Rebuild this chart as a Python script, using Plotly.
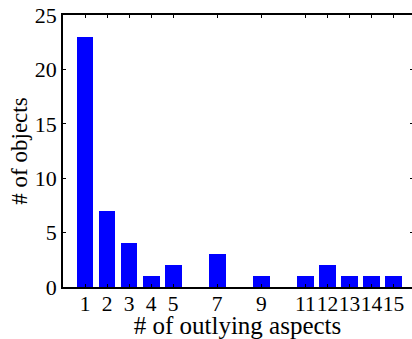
import plotly.graph_objects as go

categories = list(range(1, 16))
counts = [23, 7, 4, 1, 2, 0, 3, 0, 1, 0, 1, 2, 1, 1, 1]
tick_vals = [1, 2, 3, 4, 5, 7, 9, 11, 12, 13, 14, 15]
tick_text = ["1", "2", "3", "4", "5", "7", "9", "11", "12", "13", "14", "15"]
y_ticks = [0, 5, 10, 15, 20, 25]

FONT = "Liberation Serif"

fig = go.Figure()
fig.add_trace(go.Bar(
    x=categories, y=counts, width=0.76,
    marker=dict(color="#0000FF", line=dict(width=0)),
    showlegend=False,
))
# invisible trace to carry right-side ticks
fig.add_trace(go.Scatter(x=[categories[0]], y=[0], yaxis="y2", mode="markers",
                         marker=dict(opacity=0), showlegend=False, hoverinfo="skip"))

fig.update_layout(
    width=412, height=339,
    margin=dict(l=63, r=0, t=15, b=52),
    paper_bgcolor="white", plot_bgcolor="white",
    font=dict(family=FONT, size=22, color="black"),
    xaxis=dict(
        range=[0, 15.84], tickmode="array", tickvals=tick_vals, ticktext=tick_text,
        tickangle=0, ticklabelstandoff=-4,
        showline=True, linecolor="black", linewidth=1.6, mirror="ticks",
        ticks="inside", ticklen=3, tickcolor="black", tickwidth=1,
        showgrid=False, zeroline=False,
        title=dict(text="# of outlying aspects", font=dict(family=FONT, size=25), standoff=0),
        tickfont=dict(family=FONT, size=21.5),
    ),
    yaxis=dict(
        range=[0, 25], tickmode="array", tickvals=y_ticks,
        showline=True, linecolor="black", linewidth=1.6,
        ticks="inside", ticklen=3, tickcolor="black", tickwidth=1,
        showgrid=False, zeroline=False,
        title=dict(text="# of objects", font=dict(family=FONT, size=23), standoff=1),
        tickfont=dict(family=FONT, size=22),
    ),
    yaxis2=dict(
        range=[0, 25], tickmode="array", tickvals=y_ticks, overlaying="y", side="right",
        showline=False, ticks="inside", ticklen=2, tickcolor="black",
        showticklabels=False, showgrid=False, zeroline=False,
    ),
    bargap=0,
)

fig.write_html("out.html")
